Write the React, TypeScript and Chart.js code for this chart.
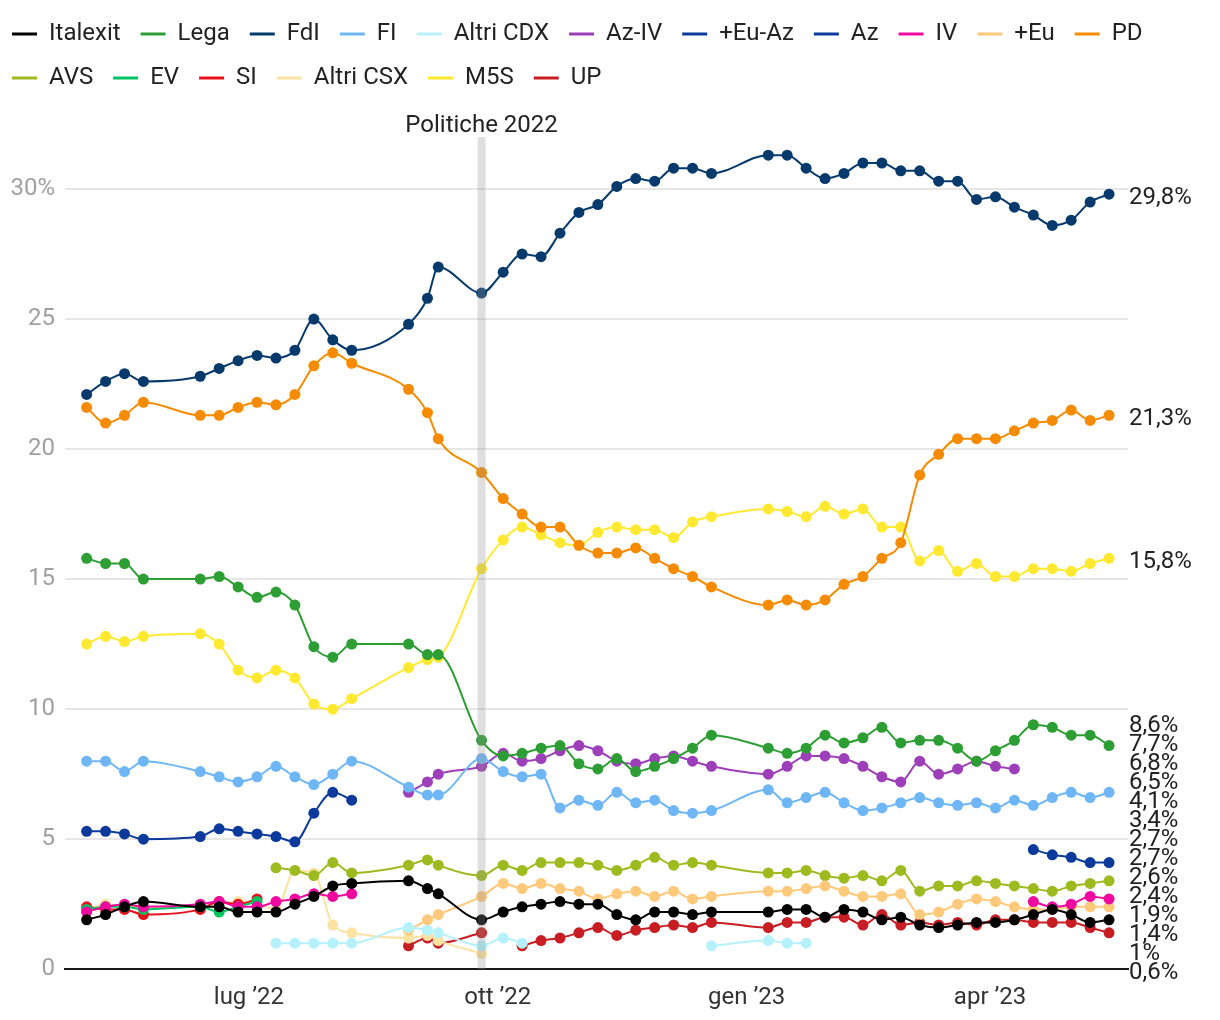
import React, { useEffect, useRef } from "react";
import { Chart, registerables } from "chart.js";

Chart.register(...registerables);

const n = null;

// Poll dates (one value per series per date, null when no poll for that party)
const pollDates = [
  "2022-05-02", "2022-05-09", "2022-05-16", "2022-05-23",
  "2022-06-13", "2022-06-20", "2022-06-27", "2022-07-04", "2022-07-11", "2022-07-18", "2022-07-25", "2022-08-01", "2022-08-08",
  "2022-08-29", "2022-09-05", "2022-09-09",
  "2022-09-25",
  "2022-10-03", "2022-10-10", "2022-10-17", "2022-10-24", "2022-10-31", "2022-11-07", "2022-11-14", "2022-11-21", "2022-11-28", "2022-12-05", "2022-12-12", "2022-12-19",
  "2023-01-09", "2023-01-16", "2023-01-23", "2023-01-30", "2023-02-06", "2023-02-13", "2023-02-20", "2023-02-27", "2023-03-06", "2023-03-13", "2023-03-20", "2023-03-27", "2023-04-03", "2023-04-10", "2023-04-17", "2023-04-24", "2023-05-01", "2023-05-08", "2023-05-15",
];

const tickDates = ["2022-07-01", "2022-10-01", "2023-01-01", "2023-04-01"];
const tickLabels = ["lug ’22", "ott ’22", "gen ’23", "apr ’23"];
const electionDate = "2022-09-25";
const electionLabel = "Politiche 2022";

const italexit = [1.9, 2.1, 2.4, 2.6, 2.4, 2.4, 2.2, 2.2, 2.2, 2.5, 2.8, 3.2, 3.3, 3.4, 3.1, 2.9, 1.9, 2.2, 2.4, 2.5, 2.6, 2.5, 2.5, 2.1, 1.9, 2.2, 2.2, 2.1, 2.2, 2.2, 2.3, 2.3, 2.0, 2.3, 2.2, 1.9, 2.0, 1.7, 1.6, 1.7, 1.8, 1.8, 1.9, 2.1, 2.3, 2.1, 1.8, 1.9];
const lega = [15.8, 15.6, 15.6, 15.0, 15.0, 15.1, 14.7, 14.3, 14.5, 14.0, 12.4, 12.0, 12.5, 12.5, 12.1, 12.1, 8.8, 8.2, 8.3, 8.5, 8.6, 7.9, 7.7, 8.1, 7.6, 7.8, 8.1, 8.5, 9.0, 8.5, 8.3, 8.5, 9.0, 8.7, 8.9, 9.3, 8.7, 8.8, 8.8, 8.5, 8.0, 8.4, 8.8, 9.4, 9.3, 9.0, 9.0, 8.6];
const fdi = [22.1, 22.6, 22.9, 22.6, 22.8, 23.1, 23.4, 23.6, 23.5, 23.8, 25.0, 24.2, 23.8, 24.8, 25.8, 27.0, 26.0, 26.8, 27.5, 27.4, 28.3, 29.1, 29.4, 30.1, 30.4, 30.3, 30.8, 30.8, 30.6, 31.3, 31.3, 30.8, 30.4, 30.6, 31.0, 31.0, 30.7, 30.7, 30.3, 30.3, 29.6, 29.7, 29.3, 29.0, 28.6, 28.8, 29.5, 29.8];
const fi = [8.0, 8.0, 7.6, 8.0, 7.6, 7.4, 7.2, 7.4, 7.8, 7.4, 7.1, 7.5, 8.0, 7.0, 6.7, 6.7, 8.1, 7.6, 7.4, 7.5, 6.2, 6.5, 6.3, 6.8, 6.4, 6.5, 6.1, 6.0, 6.1, 6.9, 6.4, 6.6, 6.8, 6.4, 6.1, 6.2, 6.4, 6.6, 6.4, 6.3, 6.4, 6.2, 6.5, 6.3, 6.6, 6.8, 6.6, 6.8];
const altriCdx = [n, n, n, n, n, n, n, n, 1.0, 1.0, 1.0, 1.0, 1.0, 1.6, 1.5, 1.4, 0.9, 1.2, 1.0, n, n, n, n, n, n, n, n, n, 0.9, 1.1, 1.0, 1.0, n, n, n, n, n, n, n, n, n, n, n, n, n, n, n, n];
const azIv = [n, n, n, n, n, n, n, n, n, n, n, n, n, 6.8, 7.2, 7.5, 7.8, 8.3, 8.0, 8.1, 8.4, 8.6, 8.4, 8.0, 7.9, 8.1, 8.2, 8.0, 7.8, 7.5, 7.8, 8.2, 8.2, 8.1, 7.8, 7.4, 7.2, 8.0, 7.5, 7.7, 8.0, 7.8, 7.7, n, n, n, n, n];
const euAz = [5.3, 5.3, 5.2, 5.0, 5.1, 5.4, 5.3, 5.2, 5.1, 4.9, 6.0, 6.8, 6.5, n, n, n, n, n, n, n, n, n, n, n, n, n, n, n, n, n, n, n, n, n, n, n, n, n, n, n, n, n, n, n, n, n, n, n];
const az = [n, n, n, n, n, n, n, n, n, n, n, n, n, n, n, n, n, n, n, n, n, n, n, n, n, n, n, n, n, n, n, n, n, n, n, n, n, n, n, n, n, n, n, 4.6, 4.4, 4.3, 4.1, 4.1];
const iv = [2.2, 2.4, 2.5, 2.4, 2.5, 2.6, 2.4, 2.4, 2.6, 2.7, 2.9, 2.8, 2.9, n, n, n, n, n, n, n, n, n, n, n, n, n, n, n, n, n, n, n, n, n, n, n, n, n, n, n, n, n, n, 2.6, 2.4, 2.5, 2.8, 2.7];
const piuEuropa = [n, n, n, n, n, n, n, n, n, n, n, n, n, 1.5, 1.9, 2.1, 2.8, 3.3, 3.1, 3.3, 3.1, 3.0, 2.7, 2.9, 3.0, 2.8, 3.0, 2.7, 2.8, 3.0, 3.0, 3.1, 3.2, 3.0, 2.8, 2.8, 2.9, 2.1, 2.2, 2.5, 2.7, 2.6, 2.4, 2.3, 2.3, 2.4, 2.4, 2.4];
const pd = [21.6, 21.0, 21.3, 21.8, 21.3, 21.3, 21.6, 21.8, 21.7, 22.1, 23.2, 23.7, 23.3, 22.3, 21.4, 20.4, 19.1, 18.1, 17.5, 17.0, 17.0, 16.3, 16.0, 16.0, 16.2, 15.8, 15.4, 15.1, 14.7, 14.0, 14.2, 14.0, 14.2, 14.8, 15.1, 15.8, 16.4, 19.0, 19.8, 20.4, 20.4, 20.4, 20.7, 21.0, 21.1, 21.5, 21.1, 21.3];
const avs = [n, n, n, n, n, n, n, n, 3.9, 3.8, 3.6, 4.1, 3.7, 4.0, 4.2, 4.0, 3.6, 4.0, 3.8, 4.1, 4.1, 4.1, 4.0, 3.8, 4.0, 4.3, 4.0, 4.1, 4.0, 3.7, 3.7, 3.8, 3.6, 3.5, 3.6, 3.4, 3.8, 3.0, 3.2, 3.2, 3.4, 3.3, 3.2, 3.1, 3.0, 3.2, 3.3, 3.4];
const ev = [2.3, 2.4, 2.4, 2.3, 2.4, 2.2, 2.4, 2.6, n, n, n, n, n, n, n, n, n, n, n, n, n, n, n, n, n, n, n, n, n, n, n, n, n, n, n, n, n, n, n, n, n, n, n, n, n, n, n, n];
const si = [2.4, 2.3, 2.3, 2.1, 2.3, 2.6, 2.5, 2.7, n, n, n, n, n, n, n, n, n, n, n, n, n, n, n, n, n, n, n, n, n, n, n, n, n, n, n, n, n, n, n, n, n, n, n, n, n, n, n, n];
const altriCsx = [2.3, 2.5, 2.4, 2.4, 2.4, 2.5, 2.6, 2.5, 2.3, 3.8, 3.7, 1.7, 1.4, 1.2, 1.3, 1.1, 0.6, n, n, n, n, n, n, n, n, n, n, n, n, n, n, n, n, n, n, n, n, n, n, n, n, n, n, n, n, n, n, n];
const m5s = [12.5, 12.8, 12.6, 12.8, 12.9, 12.5, 11.5, 11.2, 11.5, 11.2, 10.2, 10.0, 10.4, 11.6, 11.9, 12.0, 15.4, 16.5, 17.0, 16.7, 16.4, 16.3, 16.8, 17.0, 16.9, 16.9, 16.6, 17.2, 17.4, 17.7, 17.6, 17.4, 17.8, 17.5, 17.7, 17.0, 17.0, 15.7, 16.1, 15.3, 15.6, 15.1, 15.1, 15.4, 15.4, 15.3, 15.6, 15.8];
const up = [n, n, n, n, n, n, n, n, n, n, n, n, n, 0.9, 1.2, 1.0, 1.4, n, 0.9, 1.1, 1.2, 1.4, 1.6, 1.3, 1.5, 1.6, 1.7, 1.6, 1.8, 1.6, 1.8, 1.8, 2.0, 2.0, 1.7, 2.1, 1.7, 1.8, 1.7, 1.8, 1.7, 1.9, 1.9, 1.8, 1.8, 1.8, 1.6, 1.4];

const seriesNames = ["Italexit", "Lega", "FdI", "FI", "Altri CDX", "Az-IV", "+Eu-Az", "Az", "IV", "+Eu", "PD", "AVS", "EV", "SI", "Altri CSX", "M5S", "UP"];
const seriesValues = [italexit, lega, fdi, fi, altriCdx, azIv, euAz, az, iv, piuEuropa, pd, avs, ev, si, altriCsx, m5s, up];
const seriesColors = [
  "#000000", "#2c9e34", "#063a6d", "#6fb6f6", "#b5f1fd", "#9c3fb8", "#0b3a9c", "#0b3a9c", "#f0089f",
  "#ffc97b", "#f78b00", "#9dbb1f", "#00c462", "#e8101a", "#fde3a3", "#ffe930", "#c81d22",
];

const FONT = "Roboto";

const dayOf = (s: string) => {
  const [y, m, d] = s.split("-").map(Number);
  return (Date.UTC(y, m - 1, d) - Date.UTC(2022, 6, 1)) / 86400000;
};

const fmtPct = (v: number) => String(v).replace(".", ",") + "%";

const electionPlugin = {
  id: "election",
  afterDatasetsDraw(chart: any) {
    const { ctx, chartArea } = chart;
    const x = chart.scales.x.getPixelForValue(dayOf(electionDate));
    ctx.save();
    ctx.fillStyle = "rgba(150,150,150,0.3)";
    ctx.fillRect(x - 4, chartArea.top, 8, chartArea.bottom - chartArea.top);
    ctx.fillStyle = "#222";
    ctx.font = `24px ${FONT}`;
    ctx.textAlign = "center";
    ctx.textBaseline = "middle";
    ctx.fillText(electionLabel, x, chartArea.top - 11);
    ctx.restore();
  },
};

const endLabelsPlugin = {
  id: "endLabels",
  afterDraw(chart: any) {
    const { ctx, chartArea } = chart;
    const ys = chart.scales.y;
    const items: { v: number; y: number }[] = [];
    chart.data.datasets.forEach((ds: any) => {
      let last: number | null = null;
      ds.data.forEach((p: any) => {
        if (p.y !== null && p.y !== undefined) last = p.y;
      });
      if (last !== null) items.push({ v: last, y: ys.getPixelForValue(last) });
    });
    items.sort((a, b) => a.y - b.y);
    const gap = 19;
    const pos = items.map((it) => it.y);
    for (let i = 1; i < pos.length; i++) pos[i] = Math.max(pos[i], pos[i - 1] + gap);
    pos[pos.length - 1] = Math.min(pos[pos.length - 1], chartArea.bottom);
    for (let i = pos.length - 2; i >= 0; i--) pos[i] = Math.min(pos[i], pos[i + 1] - gap);
    ctx.save();
    ctx.fillStyle = "#222";
    ctx.font = `24px ${FONT}`;
    ctx.textAlign = "left";
    ctx.textBaseline = "middle";
    items.forEach((it, i) => ctx.fillText(fmtPct(it.v), chartArea.right + 1, pos[i] + 4));
    ctx.restore();
  },
};

export default function App() {
  const canvasRef = useRef<HTMLCanvasElement | null>(null);

  useEffect(() => {
    document.body.style.margin = "0";
    const canvas = canvasRef.current;
    if (!canvas) return;
    const xs = pollDates.map(dayOf);
    const tickVals = tickDates.map(dayOf);

    const datasets = seriesNames.map((name, i) => ({
      label: name,
      data: xs.map((x, j) => ({ x, y: seriesValues[i][j] })),
      borderColor: seriesColors[i],
      backgroundColor: seriesColors[i],
      pointBackgroundColor: seriesColors[i],
      pointBorderWidth: 0,
      pointRadius: 5.5,
      pointHoverRadius: 5.5,
      borderWidth: 2,
      cubicInterpolationMode: "monotone" as const,
      spanGaps: false,
    }));

    const chart = new Chart(canvas, {
      type: "line",
      data: { datasets },
      options: {
        animation: false,
        responsive: false,
        events: [],
        layout: { padding: { left: 0, right: 0, top: 0, bottom: 0 } },
        plugins: {
          tooltip: { enabled: false },
          legend: {
            position: "top",
            align: "start",
            labels: {
              boxWidth: 25,
              boxHeight: 3,
              padding: 20,
              color: "#222",
              font: { size: 24, family: FONT },
              generateLabels: (c: any) =>
                c.data.datasets.map((ds: any, i: number) => ({
                  text: ds.label,
                  fillStyle: ds.borderColor,
                  strokeStyle: ds.borderColor,
                  lineWidth: 0,
                  hidden: false,
                  datasetIndex: i,
                  fontColor: "#222",
                })),
            },
          },
        },
        scales: {
          x: {
            type: "linear",
            min: -68,
            max: 325,
            grid: { display: false, drawTicks: false },
            border: { display: true, color: "#1a1a1a", width: 2 },
            afterBuildTicks: (s: any) => {
              s.ticks = tickVals.map((v) => ({ value: v }));
            },
            afterFit: (s: any) => {
              s.height = 50.8;
            },
            ticks: {
              autoSkip: false,
              maxRotation: 0,
              padding: 11,
              color: "#333",
              font: { size: 24, family: FONT, lineHeight: 1.5 },
              callback: (v: any) => {
                const k = tickVals.indexOf(Number(v));
                return k >= 0 ? tickLabels[k] : "";
              },
            },
          },
          xTop: {
            type: "linear",
            position: "top",
            grid: { display: false, drawTicks: false },
            border: { display: false },
            ticks: { display: false },
            afterFit: (s: any) => {
              s.height = 37;
            },
          },
          y: {
            type: "linear",
            position: "left",
            min: 0,
            max: 32,
            grid: { color: "#e6e6e6", lineWidth: 2, drawTicks: false },
            border: { display: false },
            ticks: {
              stepSize: 5,
              includeBounds: false,
              padding: 10,
              color: "#a0a0a0",
              font: { size: 24, family: FONT },
              callback: (v: any) => (Number(v) === 30 ? "30%" : String(v)),
            },
            afterFit: (s: any) => {
              s.width = 73;
            },
          },
          yRight: {
            type: "linear",
            position: "right",
            grid: { display: false, drawTicks: false },
            border: { display: false },
            ticks: { display: false },
            afterFit: (s: any) => {
              s.width = 92;
            },
          },
        },
      } as any,
      plugins: [electionPlugin, endLabelsPlugin],
    });

    return () => chart.destroy();
  }, []);

  return (
    <div style={{ marginLeft: -8, marginTop: 2, width: 1228, height: 1018 }}>
      <canvas ref={canvasRef} width={1228} height={1018} style={{ display: "block" }} />
    </div>
  );
}
